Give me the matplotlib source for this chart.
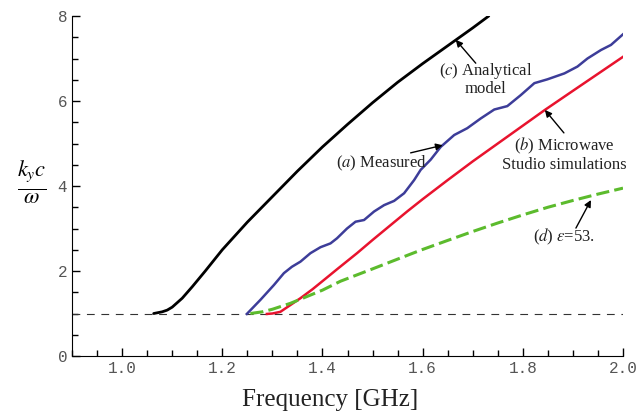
import matplotlib
matplotlib.use("Agg")
import matplotlib.pyplot as plt
from matplotlib.ticker import MultipleLocator

plt.rcParams["mathtext.fontset"] = "stix"

# (c) analytical model
freq_c = [1.063, 1.08, 1.09, 1.10, 1.12, 1.14, 1.166, 1.20, 1.25, 1.30, 1.35,
          1.40, 1.45, 1.50, 1.55, 1.60, 1.65, 1.70, 1.732]
ky_c = [1.0, 1.04, 1.08, 1.15, 1.36, 1.63, 2.0, 2.5, 3.15, 3.75, 4.35,
        4.92, 5.45, 5.96, 6.44, 6.88, 7.30, 7.72, 8.0]

# (a) measured
freq_a = [1.249, 1.276, 1.303, 1.323, 1.339, 1.356, 1.376, 1.396, 1.416,
          1.429, 1.449, 1.466, 1.483, 1.503, 1.523, 1.543, 1.563, 1.583,
          1.596, 1.616, 1.636, 1.663, 1.689, 1.716, 1.743, 1.769, 1.796,
          1.823, 1.849, 1.883, 1.909, 1.929, 1.956, 1.976, 2.0]
ky_a = [0.99, 1.32, 1.67, 1.95, 2.10, 2.22, 2.42, 2.56, 2.65,
        2.77, 3.00, 3.16, 3.20, 3.40, 3.55, 3.65, 3.83, 4.14,
        4.38, 4.62, 4.92, 5.20, 5.36, 5.59, 5.80, 5.88, 6.14,
        6.42, 6.51, 6.65, 6.81, 7.0, 7.2, 7.32, 7.57]

# (b) Microwave Studio simulations
freq_b = [1.289, 1.30, 1.316, 1.336, 1.356, 1.38, 1.403, 1.43, 1.469, 1.50,
          1.536, 1.57, 1.60, 1.65, 1.70, 1.75, 1.80, 1.844, 1.90, 1.95, 2.0]
ky_b = [0.99, 1.0, 1.04, 1.2, 1.36, 1.57, 1.79, 2.05, 2.42, 2.73,
        3.08, 3.41, 3.69, 4.14, 4.58, 5.0, 5.42, 5.79, 6.24, 6.64, 7.04]

# (d) eps = 53
freq_d = [1.256, 1.28, 1.30, 1.336, 1.40, 1.436, 1.50, 1.55, 1.596, 1.65, 1.70,
          1.75, 1.80, 1.85, 1.90, 1.95, 2.0]
ky_d = [1.0, 1.04, 1.1, 1.24, 1.55, 1.76, 2.05, 2.28, 2.49, 2.72, 2.93,
        3.13, 3.32, 3.5, 3.66, 3.81, 3.95]

light_line = 1.0

fig = plt.figure(figsize=(6.38, 4.16), dpi=100)
ax = fig.add_axes([0.1129, 0.1442, 0.8636, 0.8173])

ax.axhline(light_line, color="#333333", lw=0.8, dashes=(7, 6))
ax.plot(freq_c, ky_c, color="black", lw=2.0, solid_capstyle="round",
        solid_joinstyle="round")
ax.plot(freq_a, ky_a, color="#3d3d99", lw=1.8, solid_joinstyle="round")
ax.plot(freq_b, ky_b, color="#e8132e", lw=1.8, solid_joinstyle="round")
ax.plot(freq_d, ky_d, color="#5cbb2d", lw=2.2, dashes=(4.3, 1.7))

ax.set_xlim(0.9, 2.0)
ax.set_ylim(0, 8)
ax.xaxis.set_major_locator(MultipleLocator(0.2))
ax.xaxis.set_minor_locator(MultipleLocator(0.05))
ax.yaxis.set_major_locator(MultipleLocator(2))
ax.yaxis.set_minor_locator(MultipleLocator(0.5))
ax.set_xticks([1.0, 1.2, 1.4, 1.6, 1.8, 2.0])
ax.set_xticklabels(["1.0", "1.2", "1.4", "1.6", "1.8", "2.0"])
for side in ("top", "right"):
    ax.spines[side].set_visible(False)
ax.tick_params(which="both", direction="in", colors="black",
               labelcolor="#555555", labelsize=11.5, width=1)
ax.tick_params(which="major", length=6)
ax.tick_params(which="minor", length=4)
for lab in ax.get_xticklabels() + ax.get_yticklabels():
    lab.set_family("Liberation Mono")

serif = "Liberation Serif"
fig.text(330 / 638, 1 - 400 / 416, "Frequency [GHz]", ha="center",
         va="center", family=serif, fontsize=18, color="#222222")
ax.text(-0.073, 0.51, r"$\frac{k_y c}{\omega}$", transform=ax.transAxes,
        ha="center", va="center", fontsize=23)

arrow = dict(arrowstyle="-|>", color="black", lw=1.0, mutation_scale=10,
             shrinkA=0, shrinkB=0)
txt = dict(family=serif, fontsize=12, color="#222222", ha="center",
           va="center", linespacing=1.05)

ax.annotate("", xy=(1.666, 7.44), xytext=(1.706, 6.89), arrowprops=arrow)
ax.text(1.726, 6.52, "($\\it{c}$) Analytical\nmodel", **txt)

ax.annotate("", xy=(1.64, 4.96), xytext=(1.576, 4.78), arrowprops=arrow)
ax.text(1.518, 4.54, "($\\it{a}$) Measured", **txt)

ax.annotate("", xy=(1.844, 5.79), xytext=(1.882, 5.25), arrowprops=arrow)
ax.text(1.882, 4.75, "($\\it{b}$) Microwave\nStudio simulations", **txt)

ax.annotate("", xy=(1.936, 3.67), xytext=(1.906, 3.01), arrowprops=arrow)
ax.text(1.882, 2.8, "($\\it{d}$) $\\varepsilon$=53.", **txt)

fig.savefig("out.png", dpi=100)
